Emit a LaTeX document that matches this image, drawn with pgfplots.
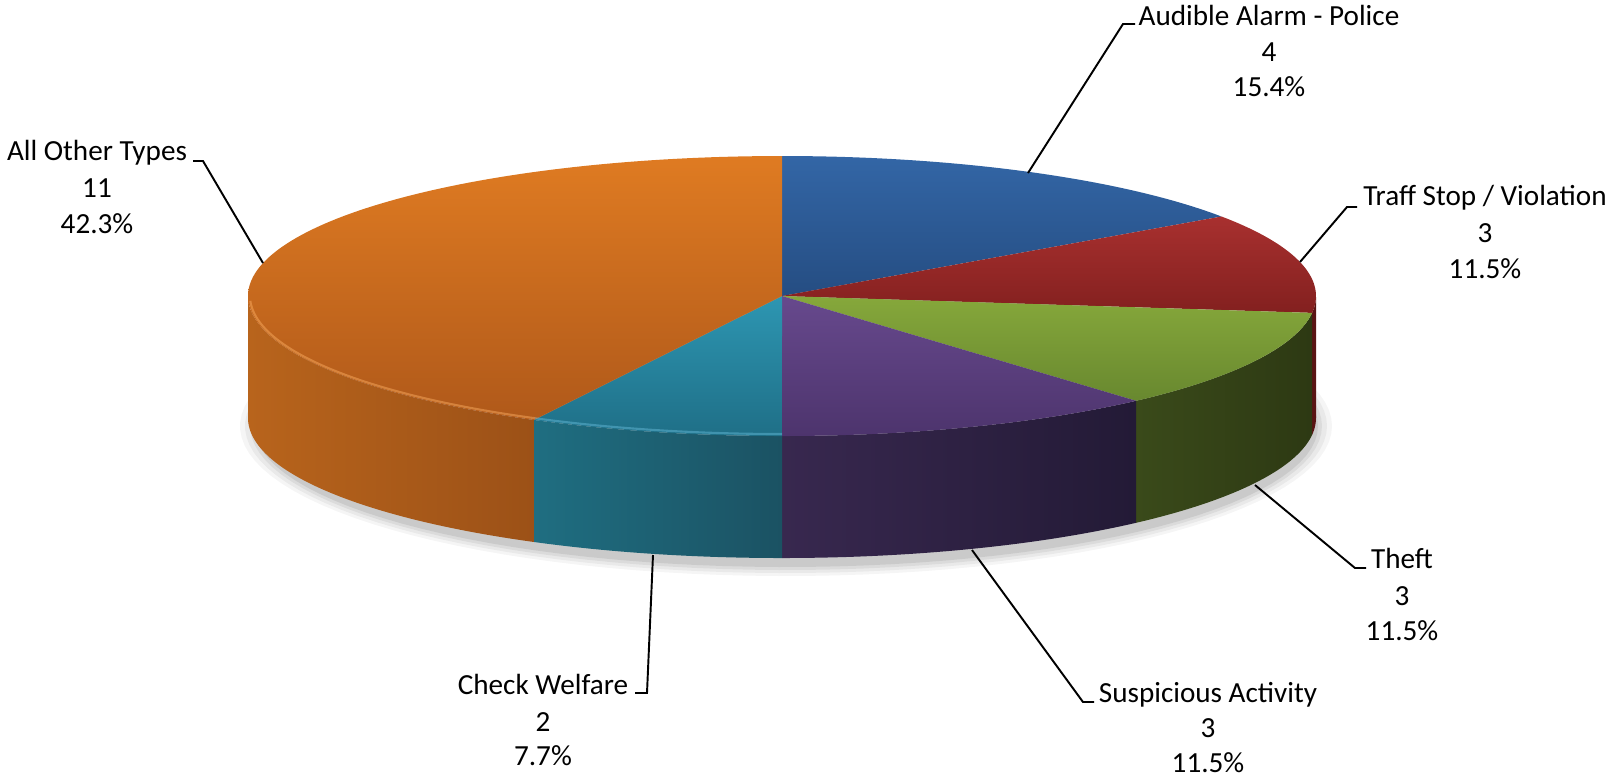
\documentclass[border=0pt]{standalone}
\usepackage{pgfplots}
\pgfplotsset{compat=1.18}
\usepackage{pgfplotstable}
\usepackage{fontspec}
\setmainfont{Carlito}

\pgfplotstableread{
type value
Audible 4
Traff 3
Theft 3
Suspicious 3
Check 2
Other 11
}\piedata

\newcommand\getval[2]{\pgfplotstablegetelem{#1}{value}\of\piedata\edef#2{\pgfplotsretval}}
\getval{0}\vA \getval{1}\vB \getval{2}\vC \getval{3}\vD \getval{4}\vE \getval{5}\vF
\pgfmathsetmacro\tot{\vA+\vB+\vC+\vD+\vE+\vF}
\pgfmathsetmacro\aA{90}
\pgfmathsetmacro\aB{\aA-360*\vA/\tot}
\pgfmathsetmacro\aC{\aB-360*\vB/\tot}
\pgfmathsetmacro\aD{\aC-360*\vC/\tot}
\pgfmathsetmacro\aE{\aD-360*\vD/\tot}
\pgfmathsetmacro\aF{\aE-360*\vE/\tot}
\pgfmathsetmacro\aG{\aF-360*\vF/\tot}

% geometry (pixel units)
\def\cx{782}\def\cy{296}\def\rx{534}\def\ry{140}\def\dep{122}

\definecolor{blueT}{HTML}{3366A6}
\definecolor{blueB}{HTML}{254D82}
\definecolor{redT}{HTML}{A8302F}
\definecolor{redB}{HTML}{83201F}
\definecolor{redS}{HTML}{5A1414}
\definecolor{greenT}{HTML}{86A83B}
\definecolor{greenB}{HTML}{68882F}
\definecolor{greenSL}{HTML}{3A4A1A}
\definecolor{greenSR}{HTML}{2D3913}
\definecolor{purpT}{HTML}{67498D}
\definecolor{purpB}{HTML}{4D346D}
\definecolor{purpSL}{HTML}{38284F}
\definecolor{purpSR}{HTML}{231A36}
\definecolor{aquaT}{HTML}{2D96B2}
\definecolor{aquaB}{HTML}{1F6F87}
\definecolor{aquaSL}{HTML}{1F6E81}
\definecolor{aquaSR}{HTML}{1B5263}
\definecolor{oranT}{HTML}{DF7B22}
\definecolor{oranB}{HTML}{B0591A}
\definecolor{oranSL}{HTML}{B8641C}
\definecolor{oranSR}{HTML}{9C5117}

\newcommand\lblfont{\fontsize{8.3}{10}\selectfont}

% top face wedge: #1 start angle, #2 end angle, #3 top colour, #4 bottom colour
\newcommand\topface[4]{%
  \addplot[draw=none, top color=#3, bottom color=#4, domain=#2:#1, samples=120, variable=\t]
    ({\cx+\rx*cos(\t)},{\cy-\ry*sin(\t)}) -- (axis cs:\cx,\cy) -- cycle;}
% side face: #1 angle a, #2 angle b, #3 left colour, #4 right colour
\newcommand\sideface[4]{%
  \addplot[draw=none, left color=#3, right color=#4, domain=0:3, samples=181, variable=\t]
    ({\cx+\rx*cos((#1)+((#2)-(#1))*(min(\t,1)-max(\t-2,0)))},
     {\cy-\ry*sin((#1)+((#2)-(#1))*(min(\t,1)-max(\t-2,0)))+\dep*min(max(\t-1,0),1)}) -- cycle;}
\newcommand\shadowell[3]{%
  \addplot[draw=none, fill=black, fill opacity=#3, domain=0:360, samples=120, variable=\t]
    ({786+#1*cos(\t)},{426-#2*sin(\t)}) -- cycle;}
\newcommand\lbl[7]{%
  \node[anchor=base, font=\lblfont, inner sep=0pt] at (axis cs:#1,#2) {#5};
  \node[anchor=base, font=\lblfont, inner sep=0pt] at (axis cs:#1,#3) {#6};
  \node[anchor=base, font=\lblfont, inner sep=0pt] at (axis cs:#1,#4) {#7};}

\begin{document}
\begin{tikzpicture}
\useasboundingbox (0,0) rectangle (16.13cm,7.78cm);
\begin{axis}[
  at={(0,0)}, anchor=south west,
  width=16.13cm, height=7.78cm, scale only axis,
  xmin=0, xmax=1613, ymin=0, ymax=778, y dir=reverse,
  hide axis, clip=false, no markers,
]
% shadow
\shadowell{546}{150}{0.04}
\shadowell{541}{147}{0.05}
\shadowell{536}{144}{0.06}
\shadowell{532}{141}{0.08}
% side faces
\sideface{\aC}{0}{redS}{redS}
\sideface{\aD}{\aC}{greenSL}{greenSR}
\sideface{\aE}{\aD}{purpSL}{purpSR}
\sideface{\aF}{\aE}{aquaSL}{aquaSR}
\sideface{-180}{\aF}{oranSL}{oranSR}
% top faces
\topface{\aA}{\aB}{blueT}{blueB}
\topface{\aB}{\aC}{redT}{redB}
\topface{\aC}{\aD}{greenT}{greenB}
\topface{\aD}{\aE}{purpT}{purpB}
\topface{\aE}{\aF}{aquaT}{aquaB}
\topface{\aF}{\aG}{oranT}{oranB}
% rim highlight (bevel) on the orange and aqua slices
\addplot[color=orange!60!white, opacity=0.45, line width=0.6pt, domain=-178:\aF, samples=100, variable=\t]
  ({\cx+(\rx-2)*cos(\t)},{\cy-(\ry-2)*sin(\t)});
\addplot[color=cyan!50!white, opacity=0.35, line width=0.6pt, domain=\aF:\aE, samples=40, variable=\t]
  ({\cx+(\rx-2)*cos(\t)},{\cy-(\ry-2)*sin(\t)});
% leader lines
\addplot[black, line width=0.55pt] coordinates {(1028,173) (1123,24) (1135,24)};
\addplot[black, line width=0.55pt] coordinates {(1300,262) (1347,207) (1357,207)};
\addplot[black, line width=0.55pt] coordinates {(193,161) (203,161) (263,263)};
\addplot[black, line width=0.55pt] coordinates {(1255,485) (1355,568) (1366,568)};
\addplot[black, line width=0.55pt] coordinates {(972,550) (1083,702) (1094,702)};
\addplot[black, line width=0.55pt] coordinates {(653,555) (647,693) (635,693)};
% labels
\lbl{1269}{25}{61}{96}{Audible Alarm - Police}{4}{15.4\%}
\lbl{1485}{205}{242}{278}{Traff Stop / Violation}{3}{11.5\%}
\lbl{97}{160}{197}{233}{All Other Types}{11}{42.3\%}
\lbl{1402}{568}{605}{640}{Theft}{3}{11.5\%}
\lbl{1208}{702}{737}{772}{Suspicious Activity}{3}{11.5\%}
\lbl{543}{694}{731}{765}{Check Welfare}{2}{7.7\%}
\end{axis}
\end{tikzpicture}
\end{document}
